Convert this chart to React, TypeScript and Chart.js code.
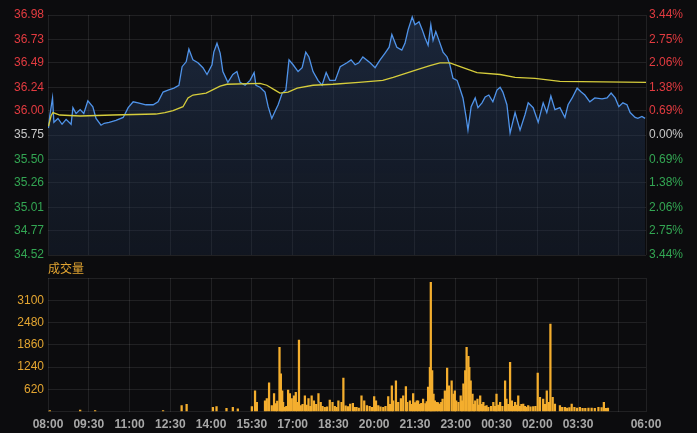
import React, { useEffect, useRef } from "react";
import { Chart, registerables } from "chart.js";
Chart.register(...registerables);

// ---- data ----
const PREV_CLOSE = 35.75;
const PRICE_MIN = 34.52;
const PRICE_MAX = 36.98;
const priceTicks = [34.52, 34.77, 35.01, 35.26, 35.5, 35.75, 36.0, 36.24, 36.49, 36.73, 36.98];
const pctLabels = ["3.44%", "2.75%", "2.06%", "1.38%", "0.69%", "0.00%", "0.69%", "1.38%", "2.06%", "2.75%", "3.44%"];
const timeTicks = [0, 90, 180, 270, 360, 450, 540, 630, 720, 810, 900, 990, 1080, 1170, 1260, 1320];
const timeLabels = ["08:00", "09:30", "11:00", "12:30", "14:00", "15:30", "17:00", "18:30", "20:00", "21:30", "23:00", "00:30", "02:00", "03:30", "", "06:00"];
const volTicks = [0, 620, 1240, 1860, 2480, 3100, 3720];

// minutes since 08:00
const priceTimes = [1, 4, 10, 13, 22, 31, 40, 51, 55, 62, 71, 79, 88, 99, 106, 117, 124, 135, 150, 166, 177, 188, 199, 216, 232, 243, 254, 265, 278, 289, 296, 305, 311, 320, 331, 342, 351, 362, 366, 373, 380, 386, 397, 408, 417, 424, 435, 446, 455, 459, 468, 479, 486, 494, 501, 508, 517, 525, 532, 541, 552, 561, 569, 576, 585, 596, 605, 614, 622, 634, 645, 660, 669, 678, 686, 695, 711, 722, 733, 744, 753, 759, 770, 781, 788, 795, 804, 810, 819, 826, 832, 839, 845, 850, 856, 863, 872, 881, 887, 894, 903, 909, 916, 923, 927, 934, 943, 949, 958, 965, 973, 982, 991, 998, 1004, 1013, 1020, 1031, 1042, 1053, 1060, 1071, 1082, 1093, 1101, 1110, 1119, 1130, 1141, 1148, 1157, 1168, 1177, 1185, 1196, 1207, 1223, 1234, 1243, 1252, 1260, 1269, 1278, 1285, 1296, 1302, 1311, 1318];
const prices = [35.82, 35.95, 36.13, 35.88, 35.92, 35.86, 35.91, 35.86, 36.03, 35.97, 36.01, 35.97, 36.1, 36.04, 35.92, 35.85, 35.87, 35.88, 35.9, 35.93, 36.03, 36.09, 36.08, 36.06, 36.06, 36.09, 36.19, 36.21, 36.23, 36.26, 36.45, 36.5, 36.63, 36.52, 36.49, 36.44, 36.37, 36.47, 36.6, 36.69, 36.59, 36.4, 36.29, 36.37, 36.4, 36.29, 36.26, 36.31, 36.39, 36.26, 36.24, 36.19, 36.04, 35.92, 35.99, 36.06, 36.18, 36.21, 36.52, 36.47, 36.4, 36.44, 36.6, 36.55, 36.4, 36.31, 36.26, 36.39, 36.31, 36.31, 36.45, 36.49, 36.52, 36.47, 36.49, 36.55, 36.49, 36.44, 36.52, 36.59, 36.65, 36.78, 36.65, 36.62, 36.69, 36.83, 36.96, 36.88, 36.91, 36.83, 36.75, 36.67, 36.88, 36.72, 36.81, 36.72, 36.6, 36.55, 36.47, 36.33, 36.31, 36.23, 36.13, 35.93, 35.8, 36.04, 36.13, 36.03, 36.08, 36.14, 36.16, 36.09, 36.21, 36.24, 36.19, 36.06, 35.77, 35.98, 35.8, 35.96, 36.08, 36.03, 35.88, 36.08, 35.98, 36.15, 36.01, 36.03, 35.93, 36.06, 36.13, 36.23, 36.19, 36.16, 36.09, 36.13, 36.12, 36.13, 36.18, 36.13, 36.04, 36.08, 36.06, 35.98, 35.93, 35.92, 35.94, 35.92];

const avgTimes = [1, 7, 11, 26, 71, 143, 238, 258, 276, 298, 309, 320, 349, 380, 395, 468, 483, 501, 512, 530, 550, 585, 629, 686, 739, 762, 815, 843, 865, 887, 916, 947, 998, 1031, 1075, 1130, 1320];
const avgPrices = [35.84, 35.95, 35.98, 35.955, 35.945, 35.955, 35.965, 35.98, 36.0, 36.04, 36.13, 36.16, 36.18, 36.25, 36.27, 36.28, 36.26, 36.21, 36.18, 36.19, 36.23, 36.26, 36.27, 36.29, 36.31, 36.34, 36.42, 36.46, 36.49, 36.49, 36.44, 36.39, 36.37, 36.34, 36.33, 36.3, 36.29];

const volTimes = [4, 71, 104, 254, 295, 306, 364, 372, 394, 408, 419, 450, 457, 461, 479, 483, 488, 494, 499, 503, 506, 511, 514, 517, 519, 523, 526, 530, 534, 538, 543, 547, 550, 554, 558, 562, 567, 571, 575, 579, 582, 587, 592, 597, 602, 606, 611, 616, 622, 628, 633, 637, 641, 648, 652, 657, 662, 667, 673, 677, 681, 686, 692, 698, 704, 710, 715, 720, 724, 729, 734, 740, 745, 751, 755, 759, 762, 768, 773, 779, 784, 790, 793, 799, 803, 806, 810, 814, 817, 821, 824, 828, 833, 836, 839, 843, 845, 848, 851, 854, 858, 861, 865, 868, 871, 876, 881, 885, 891, 895, 898, 901, 906, 911, 914, 917, 921, 924, 928, 930, 933, 937, 940, 943, 948, 951, 954, 958, 961, 965, 968, 972, 978, 983, 987, 990, 994, 998, 1003, 1009, 1012, 1016, 1020, 1024, 1027, 1031, 1035, 1038, 1042, 1045, 1049, 1053, 1056, 1060, 1065, 1071, 1076, 1081, 1086, 1093, 1097, 1101, 1106, 1109, 1114, 1119, 1130, 1135, 1141, 1146, 1151, 1156, 1162, 1168, 1174, 1180, 1186, 1193, 1200, 1207, 1215, 1222, 1227, 1232, 1236];
const volumes = [30, 40, 30, 30, 170, 200, 120, 140, 90, 120, 80, 140, 580, 260, 300, 360, 800, 170, 500, 220, 290, 1790, 1050, 580, 260, 120, 150, 600, 500, 360, 440, 540, 260, 1990, 170, 200, 440, 180, 360, 150, 440, 300, 200, 500, 260, 150, 120, 130, 320, 260, 150, 120, 300, 260, 930, 160, 140, 210, 230, 120, 120, 100, 440, 300, 170, 150, 120, 420, 300, 170, 130, 120, 150, 420, 200, 720, 300, 860, 260, 360, 440, 700, 260, 300, 200, 500, 250, 300, 300, 200, 230, 350, 220, 280, 680, 1230, 3600, 1140, 490, 300, 260, 250, 210, 260, 350, 580, 1210, 720, 860, 490, 580, 300, 260, 440, 300, 770, 1140, 1790, 1540, 1230, 860, 490, 200, 300, 350, 180, 440, 200, 260, 150, 170, 120, 150, 260, 150, 490, 180, 260, 150, 860, 350, 200, 1370, 300, 150, 260, 180, 440, 150, 200, 210, 150, 120, 170, 130, 140, 150, 1070, 400, 350, 200, 580, 260, 2440, 400, 210, 170, 120, 120, 100, 110, 210, 120, 100, 120, 90, 90, 100, 100, 90, 120, 110, 260, 90, 100];

// ---- style ----
const BG = "#0c0c0e";
const GRID = "rgba(255,255,255,0.09)";
const FONT = "'Liberation Sans', Arial, sans-serif";
const UP = "#e23b40";
const DOWN = "#33a653";
const FLAT = "#c8c8c8";

function tickColor(v: number) {
  if (Math.abs(v - PREV_CLOSE) < 0.005) return FLAT;
  return v > PREV_CLOSE ? UP : DOWN;
}

export default function App() {
  const priceRef = useRef<HTMLCanvasElement>(null);
  const volRef = useRef<HTMLCanvasElement>(null);

  useEffect(() => {
    const setTicks = (vals: number[]) => (s: any) => {
      s.ticks = vals.map((v) => ({ value: v }));
    };
    const priceChart = new Chart(priceRef.current!, {
      type: "line",
      data: {
        datasets: [
          {
            label: "avg",
            data: avgTimes.map((t, i) => ({ x: t, y: avgPrices[i] })),
            borderColor: "#d6cd3c",
            borderWidth: 1.3,
            pointRadius: 0,
            fill: false,
            tension: 0,
            order: 0,
          },
          {
            label: "price",
            data: priceTimes.map((t, i) => ({ x: t, y: prices[i] })),
            borderColor: "#5094ea",
            borderWidth: 1.3,
            pointRadius: 0,
            fill: "start",
            tension: 0,
            order: 1,
            backgroundColor: (ctx: any) => {
              const area = ctx.chart.chartArea;
              if (!area) return "rgba(30,45,70,0.5)";
              const g = ctx.chart.ctx.createLinearGradient(0, area.top, 0, area.bottom);
              g.addColorStop(0, "rgba(40,62,98,0.55)");
              g.addColorStop(1, "rgba(28,42,66,0.35)");
              return g;
            },
          },
        ],
      },
      options: {
        responsive: false,
        animation: false,
        events: [],
        layout: { padding: { top: 15, bottom: 15, left: 0, right: 0 } },
        plugins: { legend: { display: false }, tooltip: { enabled: false } },
        scales: {
          x: {
            type: "linear",
            min: 0,
            max: 1320,
            afterBuildTicks: setTicks(timeTicks),
            ticks: { display: false },
            grid: { color: GRID, drawTicks: false },
            border: { display: false },
          },
          y: {
            type: "linear",
            position: "left",
            min: PRICE_MIN,
            max: PRICE_MAX,
            afterBuildTicks: setTicks(priceTicks),
            afterFit: (s: any) => {
              s.width = 48;
            },
            ticks: {
              padding: 4,
              font: { family: FONT, size: 12 },
              color: (c: any) => tickColor(c.tick.value),
              callback: (v: any) => Number(v).toFixed(2),
            },
            grid: { color: GRID, drawTicks: false },
            border: { display: false },
          },
          y1: {
            type: "linear",
            position: "right",
            min: PRICE_MIN,
            max: PRICE_MAX,
            afterBuildTicks: setTicks(priceTicks),
            afterFit: (s: any) => {
              s.width = 51;
            },
            ticks: {
              padding: 3,
              font: { family: FONT, size: 12 },
              color: (c: any) => tickColor(c.tick.value),
              callback: (_v: any, i: number) => pctLabels[i],
            },
            grid: { display: false, drawTicks: false },
            border: { display: false },
          },
        },
      },
    } as any);

    const volChart = new Chart(volRef.current!, {
      type: "bar",
      data: {
        datasets: [
          {
            label: "vol",
            data: volTimes.map((t, i) => ({ x: t, y: volumes[i] })),
            backgroundColor: "#f4ae2e",
            barThickness: 1.6,
            borderWidth: 0,
          },
        ],
      },
      options: {
        responsive: false,
        animation: false,
        events: [],
        layout: { padding: { top: 20, bottom: 1, left: 0, right: 51 } },
        plugins: { legend: { display: false }, tooltip: { enabled: false } },
        scales: {
          x: {
            type: "linear",
            min: 0,
            max: 1320,
            offset: false,
            afterBuildTicks: setTicks(timeTicks),
            ticks: {
              autoSkip: false,
              maxRotation: 0,
              padding: 6,
              color: "#a8a8a8",
              font: { family: FONT, size: 12, weight: "bold" },
              callback: (_v: any, i: number) => timeLabels[i],
            },
            grid: { color: GRID, drawTicks: false, offset: false },
            border: { display: false },
          },
          y: {
            type: "linear",
            min: 0,
            max: 3720,
            afterBuildTicks: setTicks(volTicks),
            afterFit: (s: any) => {
              s.width = 48;
            },
            ticks: {
              padding: 4,
              color: "#e3a531",
              font: { family: FONT, size: 12 },
              callback: (v: any) => (v === 0 || v === 3720 ? "" : String(v)),
            },
            grid: { color: GRID, drawTicks: false },
            border: { display: false },
          },
        },
      },
    } as any);

    return () => {
      priceChart.destroy();
      volChart.destroy();
    };
  }, []);

  return (
    <div style={{ position: "fixed", left: 0, top: 0, width: 697, height: 433, background: BG, overflow: "hidden" }}>
      <canvas ref={priceRef} width={697} height={270} style={{ position: "absolute", left: 0, top: 0, width: 697, height: 270 }} />
      <canvas ref={volRef} width={697} height={181} style={{ position: "absolute", left: 0, top: 258, width: 697, height: 181 }} />
      <div
        style={{
          position: "absolute",
          left: 48,
          top: 261,
          fontSize: 12,
          lineHeight: "14px",
          color: "#e3a531",
          fontFamily: "'Noto Sans CJK SC', sans-serif",
        }}
      >
        成交量
      </div>
    </div>
  );
}
